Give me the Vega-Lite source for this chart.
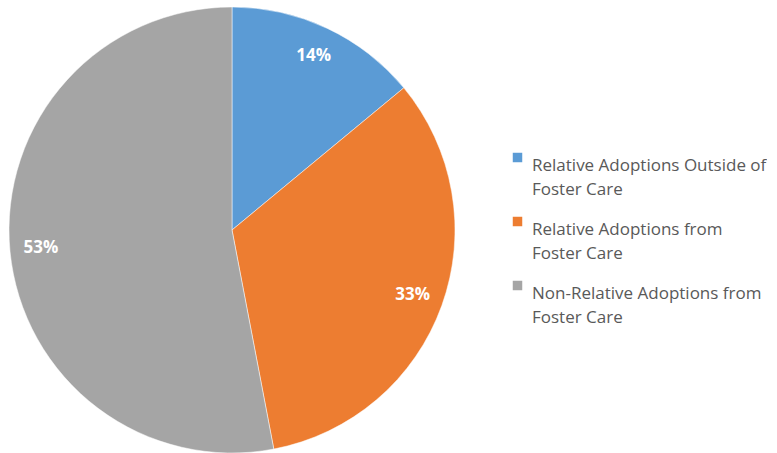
{
  "$schema": "https://vega.github.io/schema/vega-lite/v6.json",
  "width": 464,
  "height": 460,
  "padding": 0,
  "autosize": {"type": "pad"},
  "background": "white",
  "data": {
    "values": [
      {"category": "Relative Adoptions Outside of Foster Care", "value": 14, "order": 1},
      {"category": "Relative Adoptions from Foster Care", "value": 33, "order": 2},
      {"category": "Non-Relative Adoptions from Foster Care", "value": 53, "order": 3}
    ]
  },
  "encoding": {
    "theta": {"field": "value", "type": "quantitative", "stack": true},
    "order": {"field": "order", "type": "quantitative"},
    "color": {
      "field": "category",
      "type": "nominal",
      "sort": ["Relative Adoptions Outside of Foster Care", "Relative Adoptions from Foster Care", "Non-Relative Adoptions from Foster Care"],
      "scale": {
        "domain": ["Relative Adoptions Outside of Foster Care", "Relative Adoptions from Foster Care", "Non-Relative Adoptions from Foster Care"],
        "range": ["#5B9BD5", "#ED7D31", "#A5A5A5"]
      },
      "legend": {
        "title": null,
        "orient": "none",
        "legendX": 509,
        "legendY": 149,
        "symbolType": "square",
        "symbolSize": 90,
        "symbolStrokeWidth": 0,
        "labelFont": "Open Sans",
        "labelFontSize": 17,
        "labelColor": "#595959",
        "labelLimit": 300,
        "labelOffset": 6,
        "labelBaseline": "top",
        "labelExpr": "datum.label == 'Relative Adoptions Outside of Foster Care' ? ['Relative Adoptions Outside of', 'Foster Care'] : datum.label == 'Relative Adoptions from Foster Care' ? ['Relative Adoptions from', 'Foster Care'] : ['Non-Relative Adoptions from', 'Foster Care']",
        "rowPadding": 15,
        "encode": {"labels": {"update": {"lineHeight": {"value": 24}}}}
      }
    }
  },
  "layer": [
    {"mark": {"type": "arc", "outerRadius": 223, "stroke": "white", "strokeWidth": 0.5}},
    {
      "mark": {"type": "text", "radius": 192, "font": "Open Sans", "fontWeight": "bold", "fontSize": 17, "fill": "white"},
      "encoding": {
        "text": {"field": "label", "type": "nominal"},
        "color": {"value": "white"}
      },
      "transform": [{"calculate": "datum.value + '%'", "as": "label"}]
    }
  ],
  "config": {
    "view": {"stroke": null},
    "style": {"guide-label": {"lineHeight": 24}}
  }
}
